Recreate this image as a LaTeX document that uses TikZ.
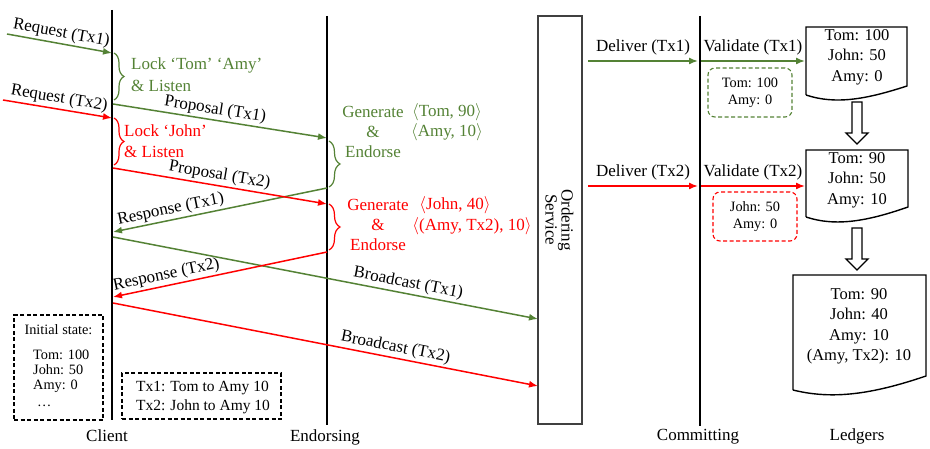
\documentclass[tikz,border=0pt]{standalone}
\usepackage{fontspec}
\setmainfont{Liberation Serif}
\usetikzlibrary{arrows.meta,decorations.pathreplacing,calc}
\definecolor{tgreen}{HTML}{548235}
\definecolor{tred}{HTML}{FF0000}
\definecolor{boxgray}{HTML}{404040}
\begin{document}
\begin{tikzpicture}[x=1pt,y=-1pt,
  every node/.style={font=\fontsize{17}{21}\selectfont, inner sep=0pt},
  lifeline/.style={line width=2.4pt},
  msg/.style={line width=1.5pt,-{Latex[length=9pt,width=7pt]}},
  msgback/.style={line width=1.5pt,{Latex[length=9pt,width=7pt]}-},
  lbl/.style={sloped, above=2pt},
  hlbl/.style={above=5pt},
  brc/.style={decorate, decoration={brace, amplitude=#1}, line width=1.2pt},
  smallfont/.style={font=\fontsize{14.3}{17}\selectfont},
  statebox/.style={draw, dashed, line width=1.1pt, dash pattern=on 4pt off 2.5pt},
  checkbox/.style={draw=#1, line width=1.1pt, dash pattern=on 4pt off 2.5pt, rounded corners=7pt,
     minimum width=84pt, minimum height=49pt, align=center, font=\fontsize{14.3}{17}\selectfont},
  docline/.style={line width=1.4pt},
  ledgerfont/.style={font=\fontsize{16.5}{20.5}\selectfont, align=center},
  hollow/.style={line width=1.3pt, fill=white}
]
\useasboundingbox (0,0) rectangle (930,449);

% lifelines
\coordinate (cl-top) at (112,10);  \coordinate (cl-bot) at (112,420);
\coordinate (en-top) at (327,16);  \coordinate (en-bot) at (327,425);
\coordinate (cm-top) at (700,16);  \coordinate (cm-bot) at (700,426);
\draw[lifeline] (cl-top) -- (cl-bot);
\draw[lifeline] (en-top) -- (en-bot);
\draw[lifeline] (cm-top) -- (cm-bot);
\node[draw=boxgray, line width=1.5pt, minimum width=44pt, minimum height=408pt] (ord) at (560,220) {};
\node[rotate=-90, align=center, font=\fontsize{17}{16}\selectfont] (ordtxt) at (559.5,220) {Ordering\\Service};

% lifeline labels
\node (client) at (107,436) {Client};
\node (endors) at (325,437) {Endorsing};
\node (commit) at (698,437) {Committing};
\node (ledgers) at (857,436) {Ledgers};

% message end points
\coordinate (rq1s) at (7,34);    \coordinate (rq1e) at (112,53);
\coordinate (rq2s) at (3,100);   \coordinate (rq2e) at (112,118);
\coordinate (pr1s) at (113,104); \coordinate (pr1e) at (327,138);
\coordinate (pr2s) at (113,168); \coordinate (pr2e) at (327,204);
\coordinate (rs1s) at (327,188); \coordinate (rs1e) at (113,232);
\coordinate (bc1s) at (113,237); \coordinate (bc1e) at (538,319);
\coordinate (rs2s) at (327,252); \coordinate (rs2e) at (113,297);
\coordinate (bc2s) at (113,303); \coordinate (bc2e) at (538,386);
\coordinate (dl1s) at (588,61);  \coordinate (dl1e) at (698,61);
\coordinate (va1s) at (701,61);  \coordinate (va1e) at (805,61);
\coordinate (dl2s) at (588,186); \coordinate (dl2e) at (698,186);
\coordinate (va2s) at (701,186); \coordinate (va2e) at (805,186);

% green messages
\draw[msg, tgreen] (rq1s) -- node[lbl, pos=.5, black] {Request (Tx1)} (rq1e);
\draw[msg, tgreen] (pr1s) -- node[lbl, pos=.47, black] {Proposal (Tx1)} (pr1e);
\draw[msgback, tgreen] (rs1e) -- node[lbl, pos=.28, black] {Response (Tx1)} (rs1s);
\draw[msg, tgreen] (bc1s) -- node[lbl, pos=.69, black] {Broadcast (Tx1)} (bc1e);
\draw[msg, tgreen] (dl1s) -- node[hlbl, black] {Deliver (Tx1)} (dl1e);
\draw[msg, tgreen] (va1s) -- node[hlbl, black] {Validate (Tx1)} (va1e);

% red messages
\draw[msg, tred] (rq2s) -- node[lbl, pos=.5, black] {Request (Tx2)} (rq2e);
\draw[msg, tred] (pr2s) -- node[lbl, pos=.49, black] {Proposal (Tx2)} (pr2e);
\draw[msgback, tred] (rs2e) -- node[lbl, pos=.26, black] {Response (Tx2)} (rs2s);
\draw[msg, tred] (bc2s) -- node[lbl, pos=.66, black] {Broadcast (Tx2)} (bc2e);
\draw[msg, tred] (dl2s) -- node[hlbl, black] {Deliver (Tx2)} (dl2e);
\draw[msg, tred] (va2s) -- node[hlbl, black] {Validate (Tx2)} (va2e);

% braces
\draw[brc=10pt, tgreen] (114,53) -- (114,100);
\draw[brc=10pt, tred] (114,118) -- (114,165);
\draw[brc=11pt, tgreen] (329,141) -- (329,187);
\draw[brc=11pt, tred] (329,204) -- (329,250);

% client-side notes
\node[anchor=west, align=left, text=tgreen, font=\fontsize{17}{22}\selectfont] (lock1) at (131,75) {Lock ‘Tom’ ‘Amy’\\\& Listen};
\node[anchor=west, align=left, text=tred, font=\fontsize{17}{21}\selectfont] (lock2) at (124,141) {Lock ‘John’\\\& Listen};

% endorsing notes
\node[align=center, text=tgreen, font=\fontsize{17}{20}\selectfont] (gen1) at (373,132) {Generate\\\&\\Endorse};
\node[text=tgreen] (w1a) at (447,112) {$\langle$Tom, 90$\rangle$};
\node[text=tgreen] (w1b) at (447,132) {$\langle$Amy, 10$\rangle$};
\node[align=center, text=tred, font=\fontsize{17}{20}\selectfont] (gen2) at (378,225) {Generate\\\&\\Endorse};
\node[text=tred] (w2a) at (455,205) {$\langle$John, 40$\rangle$};
\node[text=tred] (w2b) at (472,226) {$\langle$(Amy, Tx2), 10$\rangle$};

% read sets at committing
\node[checkbox=tgreen] (rd1) at (750,92.5) {Tom: 100\\Amy: 0};
\node[checkbox=tred] (rd2) at (755,216.5) {John: 50\\Amy: 0};

% initial state box
\node[statebox, minimum width=89pt, minimum height=105pt] (init) at (58.5,367.5) {};
\node[smallfont] (inittitle) at (58.5,330) {Initial state:};
\node[smallfont, anchor=north west, align=left, font=\fontsize{14.3}{15}\selectfont] (initvals) at (33,350) {Tom: 100\\John: 50\\Amy: 0\\[2pt]\hspace{4pt}…};

% transactions box
\node[statebox, minimum width=159pt, minimum height=46pt] (txbox) at (201.5,396) {};
\node[align=left, font=\fontsize{15.5}{19}\selectfont] (txtxt) at (203,397.5) {Tx1: Tom to Amy 10\\Tx2: John to Amy 10};

% ledgers
\draw[docline] (806,95) -- (806,27) -- (907,27) -- (907,86) .. controls (867,99) and (836,105) .. (806,95);
\draw[docline] (806,217) -- (806,150) -- (908,150) -- (908,207) .. controls (868,221) and (836,227) .. (806,217);
\draw[docline] (793,390) -- (793,275) -- (926,275) -- (926,376) .. controls (873,394) and (833,400) .. (793,390);
\node[ledgerfont] (L1) at (857,57) {Tom: 100\\John: 50\\Amy: 0};
\node[ledgerfont] (L2) at (857,180) {Tom: 90\\John: 50\\Amy: 10};
\node[ledgerfont] (L3) at (859,326.5) {Tom: 90\\John: 40\\Amy: 10\\(Amy, Tx2): 10};

% hollow arrows between ledgers
\draw[hollow] (852,102) -- (862,102) -- (862,133) -- (868,133) -- (857,144) -- (846,133) -- (852,133) -- cycle;
\draw[hollow] (852,228) -- (862,228) -- (862,259) -- (868,259) -- (857,270) -- (846,259) -- (852,259) -- cycle;
\end{tikzpicture}
\end{document}
